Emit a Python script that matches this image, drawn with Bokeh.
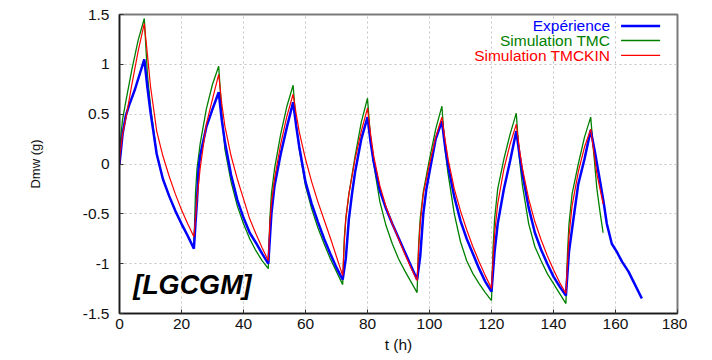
from bokeh.plotting import figure
from bokeh.models import FixedTicker, Label, Range1d
from bokeh.embed import file_html
from bokeh.resources import INLINE

# ---------------- data ----------------
t_exp = [0, 0.5, 1, 2, 3, 5, 8,
         9, 10, 12, 14, 16, 18, 20, 22, 24,
         24.5, 25, 25.5, 26, 28, 30, 32,
         33, 34, 36, 38, 40, 42, 44, 46, 48,
         49, 50, 52, 54, 56,
         57, 58, 60, 62, 64, 66, 68, 70, 72,
         73, 74, 75, 76, 78, 80,
         81, 82, 84, 86, 88, 90, 92, 94, 96,
         97, 98, 99, 100, 102, 104,
         105, 106, 108, 110, 112, 114, 116, 118, 120,
         121, 122, 124, 126, 128,
         129, 130, 132, 134, 136, 138, 140, 142, 144,
         145, 146, 148, 150, 152,
         153.3, 155, 156.1, 157.2, 158.8, 160.4, 162.1, 164.2, 165.8, 168.5]
dmw_exp = [0, 0.15, 0.3, 0.48, 0.58, 0.75, 1.05,
           0.77, 0.52, 0.10, -0.15, -0.32, -0.47, -0.60, -0.72, -0.85,
           -0.6, -0.37, -0.05, 0.08, 0.37, 0.55, 0.72,
           0.44, 0.22, -0.11, -0.36, -0.54, -0.69, -0.79, -0.90, -1.0,
           -0.5, -0.22, 0.1, 0.37, 0.62,
           0.38, 0.17, -0.18, -0.40, -0.58, -0.75, -0.90, -1.04, -1.16,
           -0.95, -0.55, -0.3, -0.08, 0.25, 0.47,
           0.22, 0.02, -0.27, -0.45, -0.60, -0.74, -0.88, -1.02, -1.16,
           -0.93, -0.5, -0.25, -0.08, 0.25, 0.43,
           0.18, -0.02, -0.33, -0.57, -0.75, -0.90, -1.05, -1.18, -1.28,
           -0.88, -0.6, -0.25, 0.03, 0.33,
           0.10, -0.10, -0.44, -0.69, -0.86, -1.0, -1.13, -1.23, -1.32,
           -0.88, -0.65, -0.2, 0.05, 0.34,
           0.13, -0.17, -0.37, -0.60, -0.80, -0.88, -0.98, -1.08, -1.18, -1.35]

t_sim = [0, 0.2, 1, 2, 4, 6, 8,
         9, 10, 12, 14, 16, 18, 20, 22, 24,
         24.5, 25, 26, 28, 30, 32,
         33, 34, 36, 38, 40, 42, 44, 46, 48,
         48.5, 49, 50, 52, 54, 56,
         57, 58, 60, 62, 64, 66, 68, 70, 72,
         72.5, 73, 74, 76, 78, 80,
         81, 82, 84, 86, 88, 90, 92, 94, 96,
         96.5, 97, 98, 100, 102, 104,
         105, 106, 108, 110, 112, 114, 116, 118, 120,
         120.5, 121, 122, 124, 126, 128,
         129, 130, 132, 134, 136, 138, 140, 142, 144,
         144.5, 145, 146, 148, 150, 152,
         153, 154, 155, 156]
dmw_tmc = [0, 0.2, 0.45, 0.62, 0.95, 1.24, 1.46,
           0.9, 0.58, 0.1, -0.15, -0.32, -0.47, -0.60, -0.72, -0.84,
           -0.3, -0.05, 0.2, 0.55, 0.80, 0.98,
           0.5, 0.15, -0.18, -0.42, -0.60, -0.75, -0.87, -0.97, -1.05,
           -0.55, -0.3, -0.05, 0.3, 0.58, 0.79,
           0.4, 0.15, -0.22, -0.45, -0.64, -0.80, -0.95, -1.08, -1.21,
           -0.75, -0.55, -0.3, 0.08, 0.42, 0.66,
           0.25, 0.0, -0.38, -0.62, -0.80, -0.95, -1.07, -1.18, -1.29,
           -0.8, -0.55, -0.28, 0.05, 0.35, 0.58,
           0.15, -0.1, -0.5, -0.78, -0.97, -1.1, -1.2, -1.29, -1.37,
           -0.85, -0.55, -0.25, 0.05, 0.3, 0.51,
           0.05, -0.22, -0.6, -0.83, -0.97, -1.1, -1.2, -1.3, -1.40,
           -0.9, -0.6, -0.3, 0.0, 0.27, 0.47,
           0.1, -0.25, -0.48, -0.69]
dmw_kin = [0, 0.1, 0.3, 0.45, 0.8, 1.13, 1.41,
           1.1, 0.78, 0.33, 0.08, -0.12, -0.3, -0.46, -0.6, -0.73,
           -0.55, -0.35, -0.05, 0.4, 0.65, 0.9,
           0.6, 0.38, 0.08, -0.15, -0.35, -0.55, -0.7, -0.84, -0.97,
           -0.6, -0.4, -0.15, 0.2, 0.48, 0.70,
           0.5, 0.32, 0.05, -0.18, -0.38, -0.56, -0.74, -0.93, -1.12,
           -0.8, -0.55, -0.3, 0.05, 0.33, 0.56,
           0.3, 0.08, -0.22, -0.43, -0.6, -0.75, -0.9, -1.04, -1.17,
           -0.85, -0.6, -0.3, 0.0, 0.27, 0.47,
           0.25, 0.05, -0.25, -0.47, -0.66, -0.83, -0.98, -1.12, -1.25,
           -0.95, -0.7, -0.4, -0.05, 0.2, 0.40,
           0.15, -0.05, -0.35, -0.58, -0.76, -0.92, -1.06, -1.19, -1.30,
           -1.0, -0.72, -0.42, -0.08, 0.17, 0.35,
           0.12, -0.1, -0.25, -0.4]

x_ticks = [0, 20, 40, 60, 80, 100, 120, 140, 160, 180]
x_tick_labels = ["0", "20", "40", "60", "80", "100", "120", "140", "160", "180"]
y_ticks = [-1.5, -1, -0.5, 0, 0.5, 1, 1.5]
y_tick_labels = ["-1.5", "-1", "-0.5", "0", "0.5", "1", "1.5"]

series_names = ["Expérience", "Simulation TMC", "Simulation TMCKIN"]
series_colors = ["#0000ff", "#008000", "#ff0000"]

FONT = "Liberation Sans"

p = figure(width=687, height=360, x_range=Range1d(0, 180), y_range=Range1d(-1.5, 1.5),
           output_backend="svg", toolbar_location=None,
           min_border_left=119, min_border_right=10, min_border_top=14, min_border_bottom=47,
           x_axis_label="t (h)", y_axis_label="Dmw (g)")
p.background_fill_color = "white"
p.border_fill_color = "white"
# frame (top/right visible as outline)
p.outline_line_color = "#7a7a7a"
p.outline_line_width = 2

# grid
p.xgrid.ticker = FixedTicker(ticks=x_ticks)
p.ygrid.ticker = FixedTicker(ticks=y_ticks)
for g in (p.xgrid, p.ygrid):
    g.grid_line_color = "#c4c4c4"
    g.grid_line_dash = "2 3"
    g.grid_line_width = 1

# main axes
xa = p.xaxis[0]
ya = p.yaxis[0]
xa.ticker = FixedTicker(ticks=x_ticks)
ya.ticker = FixedTicker(ticks=y_ticks)
xa.major_label_overrides = {float(v): s for v, s in zip(x_ticks, x_tick_labels)}
ya.major_label_overrides = {float(v): s for v, s in zip(y_ticks, y_tick_labels)}
for ax in (xa, ya):
    ax.axis_line_color = "#1a1a1a"
    ax.axis_line_width = 1.5
    ax.major_tick_in = 4
    ax.major_tick_out = 0
    ax.major_tick_line_color = "#333333"
    ax.minor_tick_line_color = None
    ax.major_label_text_font = FONT
    ax.major_label_text_font_size = "15.5px"
    ax.major_label_text_color = "#111111"
    ax.axis_label_text_font = FONT
    ax.axis_label_text_font_style = "normal"
    ax.axis_label_text_color = "#111111"
xa.major_label_standoff = 5
xa.axis_label_standoff = 4
xa.axis_label_text_font_size = "15.5px"
ya.major_label_standoff = 10
ya.axis_label_standoff = 37
ya.axis_label_text_font_size = "13px"

# series
p.line(t_sim, dmw_tmc, line_color=series_colors[1], line_width=1.3)
p.line(t_exp, dmw_exp, line_color=series_colors[0], line_width=2.5)
p.line(t_sim, dmw_kin, line_color=series_colors[2], line_width=1.2)

# legend (text right-aligned, sample line to the right)
leg_text_x = 158.3
leg_line_x0, leg_line_x1 = 161.8, 174.4
leg_y = [1.385, 1.238, 1.09]
leg_widths = [2.5, 1.5, 1.2]
for name, col, yy, lw in zip(series_names, series_colors, leg_y, leg_widths):
    p.add_layout(Label(x=leg_text_x, y=yy, text=name, text_align="right", text_baseline="middle",
                       text_color=col, text_font=FONT, text_font_size="15.5px"))
    p.segment(x0=[leg_line_x0], y0=[yy], x1=[leg_line_x1], y1=[yy], line_color=col, line_width=lw)

p.add_layout(Label(x=4.4, y=-1.21, text="[LGCGM]", text_align="left", text_baseline="alphabetic",
                   text_color="#000000", text_font=FONT, text_font_size="27px",
                   text_font_style="bold italic"))

open("out.html", "w").write(file_html(p, INLINE))
